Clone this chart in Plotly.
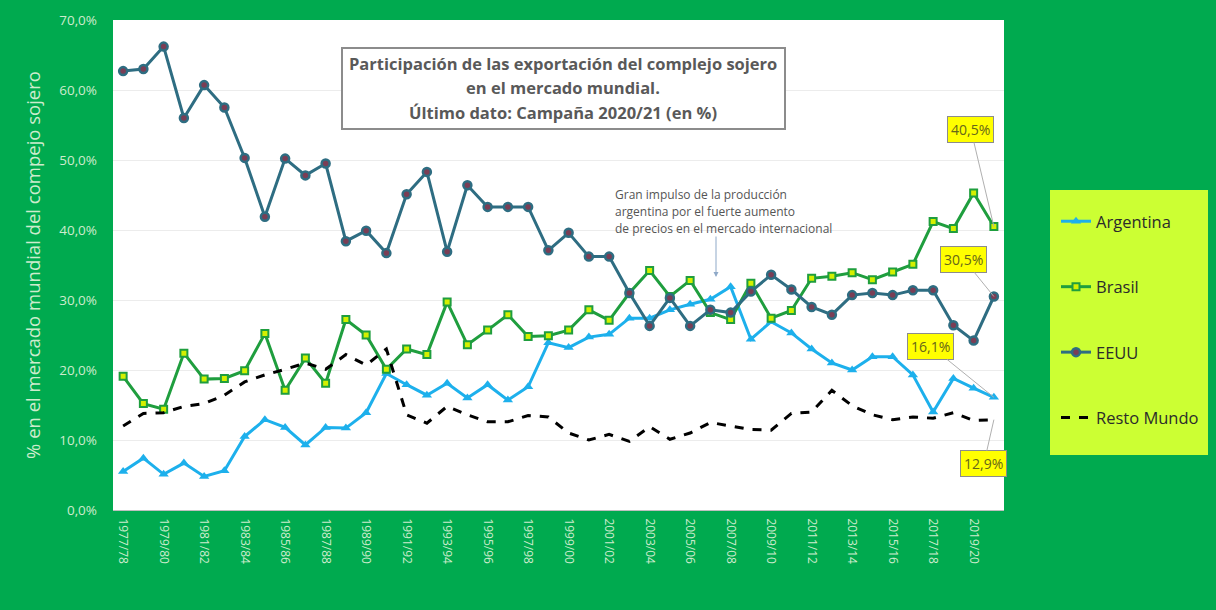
import plotly.graph_objects as go

seasons = [f"{y}/{str(y+1)[-2:]}" for y in range(1977, 2021)]

argentina = [5.5, 7.4, 5.1, 6.7, 4.8, 5.6, 10.5, 12.9, 11.8, 9.3, 11.8, 11.7, 13.9, 19.5, 17.9,
             16.4, 18.1, 16.0, 17.9, 15.7, 17.6, 23.9, 23.2, 24.7, 25.1, 27.4, 27.4, 28.6, 29.4,
             30.1, 31.9, 24.4, 26.9, 25.3, 23.0, 21.0, 20.0, 21.9, 21.9, 19.3, 14.0, 18.8, 17.4, 16.1]
brasil = [19.1, 15.2, 14.4, 22.4, 18.7, 18.8, 19.9, 25.2, 17.1, 21.7, 18.1, 27.2, 25.0, 20.1, 23.0,
          22.2, 29.7, 23.6, 25.7, 27.9, 24.8, 24.9, 25.7, 28.6, 27.1, 31.0, 34.2, 30.5, 32.8,
          28.2, 27.2, 32.4, 27.4, 28.5, 33.1, 33.4, 33.9, 32.9, 34.0, 35.1, 41.2, 40.2, 45.3, 40.5]
eeuu = [62.7, 63.0, 66.2, 56.0, 60.7, 57.5, 50.3, 41.9, 50.2, 47.8, 49.5, 38.4, 39.9, 36.7, 45.1,
        48.3, 36.9, 46.4, 43.3, 43.3, 43.3, 37.1, 39.6, 36.2, 36.2, 31.0, 26.3, 30.3, 26.3,
        28.6, 28.2, 31.2, 33.6, 31.5, 29.0, 27.9, 30.7, 31.0, 30.7, 31.4, 31.4, 26.4, 24.2, 30.5]
resto = [12.0, 13.8, 13.9, 14.8, 15.2, 16.4, 18.3, 19.3, 20.1, 21.0, 20.1, 22.2, 20.7, 23.0, 13.6,
         12.4, 14.8, 13.6, 12.6, 12.6, 13.5, 13.3, 11.0, 10.0, 10.8, 9.8, 11.9, 10.1, 11.0,
         12.5, 12.0, 11.5, 11.4, 13.8, 14.0, 17.1, 14.9, 13.6, 12.9, 13.3, 13.1, 13.9, 12.8, 12.9]

ytick_vals = [0, 10, 20, 30, 40, 50, 60, 70]
ytick_text = ["0,0%", "10,0%", "20,0%", "30,0%", "40,0%", "50,0%", "60,0%", "70,0%"]
xtick_vals = seasons[::2]

title_lines = ["Participación de las exportación del complejo sojero",
               "en el mercado mundial.",
               "Último dato: Campaña 2020/21 (en %)"]
note_lines = ["Gran impulso de la producción",
              "argentina por el fuerte aumento",
              "de precios en el mercado internacional"]
last_labels = {"Brasil": "40,5%", "EEUU": "30,5%", "Argentina": "16,1%", "Resto": "12,9%"}

GREEN_BG = "#00AA4F"
LIGHT = "#cdeccd"
FONT = "Open Sans"

L, T, W, H = 113, 20, 891, 490


def px(xp):
    return (xp - L) / W


def py(yp):
    return (T + H - yp) / H


fig = go.Figure()
fig.add_trace(go.Scatter(x=seasons, y=argentina, name="Argentina", mode="lines+markers",
                         line=dict(color="#1DB0EC", width=3),
                         marker=dict(symbol="triangle-up", size=9, color="#1DB0EC"),
                         legendgroup="a"))
fig.add_trace(go.Scatter(x=seasons, y=brasil, name="Brasil", mode="lines+markers",
                         line=dict(color="#1F9E3E", width=3),
                         marker=dict(symbol="square", size=7, color="#D4F000",
                                     line=dict(color="#1F9E3E", width=2)),
                         legendgroup="b"))
fig.add_trace(go.Scatter(x=seasons, y=eeuu, name="EEUU", mode="lines+markers",
                         line=dict(color="#2E6D82", width=3),
                         marker=dict(symbol="circle", size=8, color="#7A3E55",
                                     line=dict(color="#2E6D82", width=2.5)),
                         legendgroup="c"))
fig.add_trace(go.Scatter(x=seasons, y=resto, name="Resto Mundo", mode="lines",
                         line=dict(color="black", width=3, dash="dash"),
                         legendgroup="d"))

annotations = []
for i, line in enumerate(title_lines):
    annotations.append(dict(text=f"<b>{line}</b>", xref="paper", yref="paper",
                            x=px(563), y=py(63 + 24.5 * i), xanchor="center", yanchor="middle",
                            showarrow=False, font=dict(family=FONT, size=16.5, color="#595959")))
for i, line in enumerate(note_lines):
    annotations.append(dict(text=line, xref="paper", yref="paper",
                            x=px(613), y=py(195 + 16.5 * i),
                            xanchor="left", yanchor="middle", showarrow=False,
                            font=dict(family=FONT, size=12, color="#555555")))
# arrow
annotations.append(dict(text="", xref="paper", yref="paper", x=px(716),
                        y=py(277), ax=0, ay=-42, showarrow=True,
                        arrowhead=2, arrowsize=1, arrowwidth=1, arrowcolor="#8FA9C8"))

last = seasons[-1]
for val, txt, ax, ay in [(brasil[-1], last_labels["Brasil"], -23, -97),
                         (eeuu[-1], last_labels["EEUU"], -30, -37),
                         (argentina[-1], last_labels["Argentina"], -63, -51),
                         (resto[-1], last_labels["Resto"], -10, 44)]:
    annotations.append(dict(text=txt, x=last, y=val, xref="x", yref="y", ax=ax, ay=ay,
                            showarrow=True, arrowhead=0, arrowwidth=1, arrowcolor="#b0b0b0",
                            bgcolor="#FFFF00", bordercolor="#8c8c8c", borderwidth=1,
                            borderpad=3, font=dict(family=FONT, size=14, color="#66661A")))

shapes = [
    dict(type="rect", xref="paper", yref="paper",
         x0=px(1050), x1=px(1208), y0=py(455), y1=py(190),
         fillcolor="#CCFF33", line=dict(width=0), layer="below"),
    dict(type="rect", xref="paper", yref="paper",
         x0=px(342), x1=px(785), y0=py(129), y1=py(48),
         fillcolor="white", line=dict(color="#8c8c8c", width=2), layer="above"),
]

fig.update_layout(
    width=1216, height=610,
    paper_bgcolor=GREEN_BG, plot_bgcolor="white",
    margin=dict(l=L, r=1216 - L - W, t=T, b=610 - T - H),
    font=dict(family=FONT),
    showlegend=True,
    legend=dict(x=px(1056), y=py(204), xanchor="left", yanchor="top",
                bgcolor="rgba(0,0,0,0)", font=dict(family=FONT, size=16.5, color="#2b2b2b"),
                tracegroupgap=41, traceorder="grouped", itemwidth=30),
    annotations=annotations, shapes=shapes,
    xaxis=dict(type="category", range=[-0.5, len(seasons) - 0.5],
               tickvals=xtick_vals, ticktext=xtick_vals, tickangle=90,
               tickfont=dict(family=FONT, size=12, color=LIGHT), showgrid=False,
               ticks="", showline=True, linecolor="#bfbfbf", linewidth=1,
               ticklabelstandoff=5),
    yaxis=dict(range=[0, 70], tickvals=ytick_vals, ticktext=ytick_text,
               tickfont=dict(family=FONT, size=13.5, color=LIGHT),
               gridcolor="#ececec", gridwidth=1, zeroline=False, showline=False,
               ticklabelstandoff=15,
               title=dict(text="% en el mercado mundial del compejo sojero",
                          font=dict(family=FONT, size=18.5, color=LIGHT), standoff=13)),
)

fig.write_html("out.html", config={"displayModeBar": False},
               post_script="document.body.style.margin='0';document.body.style.background='#00AA4F';")
